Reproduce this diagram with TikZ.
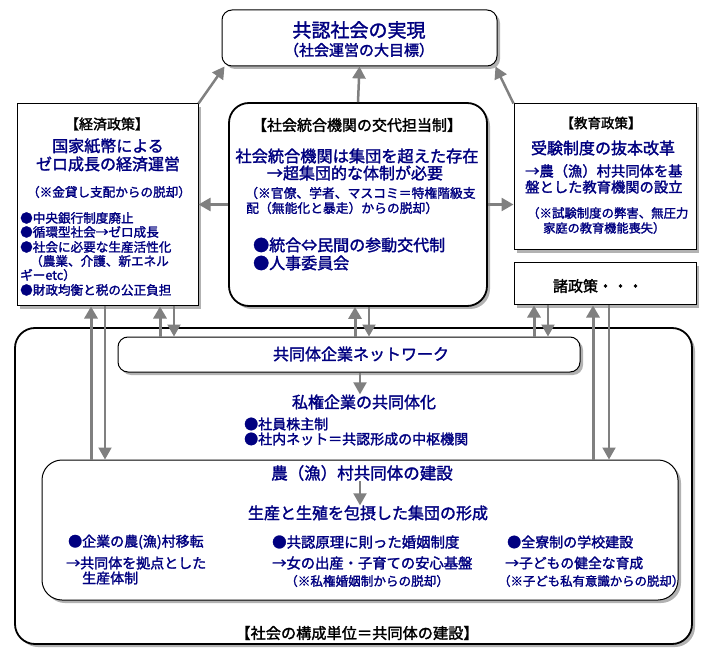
\documentclass[tikz,border=0pt]{standalone}
\usepackage{fontspec}
\newfontfamily\jp{Noto Sans CJK JP}[FakeBold=1.8]
\usetikzlibrary{arrows.meta,shadows}
\definecolor{navy}{RGB}{0,0,128}
\definecolor{arrgray}{RGB}{128,128,128}
\begin{document}
\begin{tikzpicture}[x=1pt,y=-1pt,
  box/.style={draw=black, line width=1pt, fill=white, inner sep=0pt,
    drop shadow={shadow xshift=3pt, shadow yshift=-3pt, fill=gray!60, opacity=1}},
  rbox/.style={box, rounded corners=#1},
  thick box/.style={line width=1.8pt},
  t/.style={font=\jp\fontsize{#1}{#1}\selectfont, inner sep=0pt, text=navy},
  h/.style={t=#1, text=black},
  arrup/.style={draw=arrgray, line width=3pt, -{Triangle[length=12pt,width=13pt]}},
  arrdn/.style={draw=arrgray, line width=2pt, -{Triangle[length=12pt,width=13pt]}},
  arrtop/.style={draw=arrgray, line width=2.5pt, -{Triangle[length=12pt,width=13pt]}}]
\useasboundingbox (0,0) rectangle (712,668);

% ---------- boxes ----------
\node[rbox=10, minimum width=275, minimum height=56] (top) at (359.5,38) {};
\node[box, minimum width=181, minimum height=202] (econ) at (107.5,205) {};
\node[rbox=20, thick box, minimum width=258, minimum height=203] (center) at (358,204.5) {};
\node[box, minimum width=182, minimum height=146] (edu) at (605,177) {};
\node[box, minimum width=182, minimum height=42] (misc) at (605,284) {};
\node[rbox=20, thick box, minimum width=677, minimum height=316] (outer) at (353.5,486) {};
\node[rbox=10, minimum width=462, minimum height=35] (net) at (349,354.5) {};
\node[rbox=20, minimum width=636, minimum height=140] (village) at (360,530) {};

% ---------- guide coordinates ----------
\coordinate (xa) at (91,0);
\coordinate (xb) at (105,0);
\coordinate (xc) at (160,0);
\coordinate (xd) at (174,0);
\coordinate (xe) at (355,0);
\coordinate (xf) at (369,0);
\coordinate (xg) at (534,0);
\coordinate (xh) at (548,0);
\coordinate (xi) at (593,0);
\coordinate (xj) at (609,0);
\coordinate (xm) at (360,0);

% ---------- texts ----------
\node[t=19] (topa) at (359,30) {共認社会の実現};
\node[t=15] (topb) at (359,50) {（社会運営の大目標）};

\node[h=14] (econh) at (107,124) {【経済政策】};
\node[t=16] (econa) at (108,146) {国家紙幣による};
\node[t=16] (econb) at (108,164) {ゼロ成長の経済運営};
\node[t=12.6] (econc) at (109,192) {（※金貸し支配からの脱却）};
\node[t=12.6, anchor=west] (econd) at (20,218) {●中央銀行制度廃止};
\node[t=12.6, anchor=west] (econe) at (20,232) {●循環型社会→ゼロ成長};
\node[t=12.6, anchor=west] (econf) at (20,247) {●社会に必要な生産活性化};
\node[t=12.6, anchor=west] (econg) at (30,261) {（農業、介護、新エネル};
\node[t=12.6, anchor=west] (econi) at (20,275) {ギーetc）};
\node[t=12.6, anchor=west] (econj) at (20,290) {●財政均衡と税の公正負担};

\node[h=15] (cenh) at (357,125) {【社会統合機関の交代担当制】};
\node[t=16.2] (cena) at (357,156) {社会統合機関は集団を超えた存在};
\node[t=16] (cenb) at (355,173) {→超集団的な体制が必要};
\node[t=12.8, anchor=west] (cenc) at (245,193) {（※官僚、学者、マスコミ＝特権階級支};
\node[t=12.8, anchor=west] (cend) at (246,208) {配（無能化と暴走）からの脱却）};
\node[t=16, anchor=west] (cene) at (253,245) {●統合⇔民間の参動交代制};
\node[t=16, anchor=west] (cenf) at (253,263) {●人事委員会};

\node[h=13.5] (eduh) at (601,123) {【教育政策】};
\node[t=16] (edua) at (603,148) {受験制度の抜本改革};
\node[t=14.3, anchor=west] (edub) at (525,171) {→農（漁）村共同体を基};
\node[t=14.3, anchor=west] (educ) at (525,187) {盤とした教育機関の設立};
\node[t=12.4, anchor=west] (edud) at (527,213) {（※試験制度の弊害、無圧力};
\node[t=12.2, anchor=west] (edue) at (543,228) {家庭の教育機能喪失）};

\node[h=15] (misct) at (598,286) {諸政策・・・};

\node[t=16] (nett) at (361,354) {共同体企業ネットワーク};
\node[t=16] (priv) at (364,402) {私権企業の共同体化};
\node[t=14, anchor=west] (priva) at (244,424) {●社員株主制};
\node[t=14, anchor=west] (privb) at (244,439) {●社内ネット＝共認形成の中枢機関};

\node[t=16.5] (vt) at (362,473) {農（漁）村共同体の建設};
\node[t=16] (vp) at (368,513) {生産と生殖を包摂した集団の形成};
\node[t=14, anchor=west] (v1a) at (68,542) {●企業の農(漁)村移転};
\node[t=14, anchor=west] (v1b) at (66,563) {→共同体を拠点とした};
\node[t=14, anchor=west] (v1c) at (82,578) {生産体制};
\node[t=14.4, anchor=west] (v2a) at (272,542) {●共認原理に則った婚姻制度};
\node[t=14.3, anchor=west] (v2b) at (272,563) {→女の出産・子育ての安心基盤};
\node[t=12.6, anchor=west] (v2c) at (285,581) {（※私権婚姻制からの脱却）};
\node[t=14, anchor=west] (v3a) at (507,542) {●全寮制の学校建設};
\node[t=13.8, anchor=west] (v3b) at (505,563) {→子どもの健全な育成};
\node[t=12.4, anchor=west] (v3c) at (498,581) {（※子ども私有意識からの脱却）};

\node[h=15.2] (bottom) at (357,633) {【社会の構成単位＝共同体の建設】};

% ---------- arrows ----------
\draw[arrtop] (econ.north east) -- ([xshift=3pt]top.south west);
\draw[arrtop] (center.north) -- (top.south);
\draw[arrtop] (edu.north west) -- ([xshift=-2pt]top.south east);
\draw[arrtop] (center.west) -- (center.west -| econ.east);
\draw[arrtop] (center.east) -- (center.east -| edu.west);

\draw[arrup] (village.north -| xa) -- (econ.south -| xa);
\draw[arrdn] (econ.south -| xb) -- (village.north -| xb);
\draw[arrup] (net.north -| xc) -- (econ.south -| xc);
\draw[arrdn] (econ.south -| xd) -- (net.north -| xd);
\draw[arrup] (net.north -| xe) -- (center.south -| xe);
\draw[arrdn] (center.south -| xf) -- (net.north -| xf);
\draw[arrup] (net.north -| xg) -- (misc.south -| xg);
\draw[arrdn] (misc.south -| xh) -- (net.north -| xh);
\draw[arrup] (village.north -| xi) -- (misc.south -| xi);
\draw[arrdn] (misc.south -| xj) -- (village.north -| xj);

\draw[arrdn] (net.south -| xm) -- (priv.north -| xm);
\draw[arrdn] (vt.south -| xm) -- (vp.north -| xm);
\end{tikzpicture}
\end{document}
